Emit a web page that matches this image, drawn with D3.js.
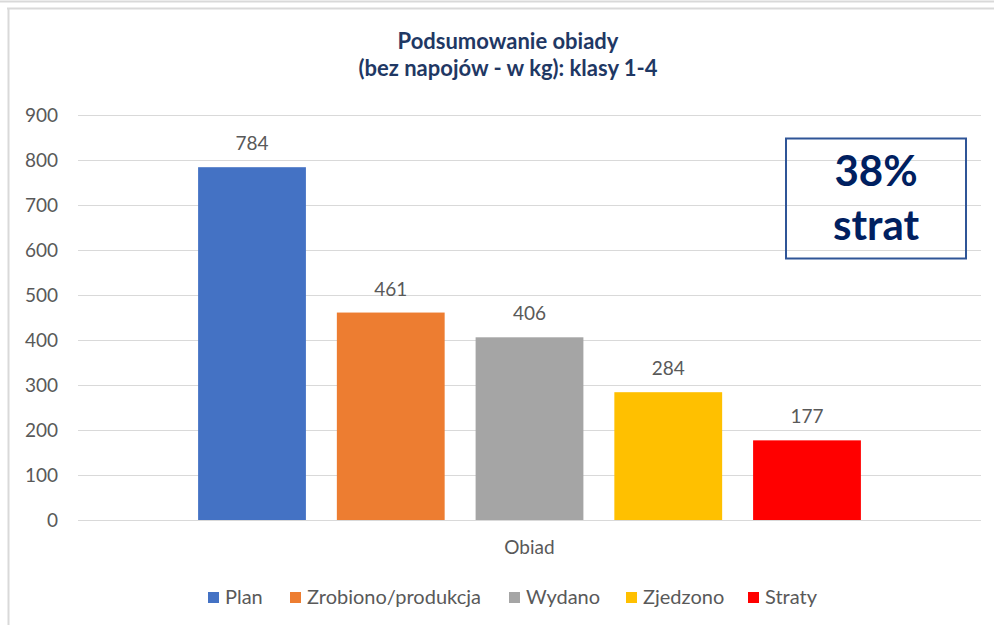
<!DOCTYPE html>
<html>
<head>
<meta charset="utf-8">
<script src="https://cdn.jsdelivr.net/npm/d3@7"></script>
<style>
  html, body { margin: 0; padding: 0; background: #fff; }
  svg { display: block; }
  text { font-family: Lato, "Open Sans", sans-serif; }
</style>
</head>
<body>
<svg id="chart" width="994" height="625"></svg>
<script>
const categories = ["Obiad"];
const seriesNames = ["Plan", "Zrobiono/produkcja", "Wydano", "Zjedzono", "Straty"];
const seriesValues = [784, 461, 406, 284, 177];
const seriesColors = ["#4472C4", "#ED7D31", "#A5A5A5", "#FFC000", "#FF0000"];
const yTicks = [0, 100, 200, 300, 400, 500, 600, 700, 800, 900];
const titleLines = ["Podsumowanie obiady", "(bez napojów - w kg): klasy 1-4"];
const calloutLines = ["38%", "strat"];

const svg = d3.select("#chart");
const W = 994, H = 625;
const plot = {left: 78, right: 981, top: 115, bottom: 520};

// frame (screenshot borders)
svg.append("line").attr("x1", 0).attr("x2", W).attr("y1", 1.5).attr("y2", 1.5)
  .attr("stroke", "#d9d9d9").attr("stroke-width", 2);
svg.append("line").attr("x1", 7).attr("x2", W).attr("y1", 8.5).attr("y2", 8.5)
  .attr("stroke", "#d9d9d9").attr("stroke-width", 2);
svg.append("line").attr("x1", 8.5).attr("x2", 8.5).attr("y1", 8).attr("y2", H)
  .attr("stroke", "#d9d9d9").attr("stroke-width", 2);

const y = d3.scaleLinear().domain([0, 900]).range([plot.bottom, plot.top]);
const x0 = d3.scaleBand().domain(categories).range([plot.left, plot.right]).padding(0.1534);
const x1 = d3.scaleBand().domain(seriesNames).range([0, x0.bandwidth()]).paddingInner(0.223).paddingOuter(0);

// gridlines
svg.append("g").selectAll("line").data(yTicks).join("line")
  .attr("x1", plot.left).attr("x2", plot.right)
  .attr("y1", d => Math.round(y(d)) + 0.5).attr("y2", d => Math.round(y(d)) + 0.5)
  .attr("stroke", "#d9d9d9").attr("stroke-width", 1);

// y axis labels
const yAxis = d3.axisLeft(y).tickValues(yTicks).tickSize(0).tickPadding(0);
const gy = svg.append("g").attr("transform", `translate(58,0)`).call(yAxis);
gy.select(".domain").remove();
gy.selectAll("text").attr("fill", "#595959").style("font-size", "19px")
  .style("font-family", "Lato, sans-serif");

// bars
const data = seriesNames.map((s, i) => ({name: s, value: seriesValues[i], color: seriesColors[i]}));
const g = svg.append("g").attr("transform", `translate(${x0("Obiad")},0)`);
g.selectAll("rect").data(data).join("rect")
  .attr("x", d => x1(d.name)).attr("width", x1.bandwidth())
  .attr("y", d => y(d.value)).attr("height", d => y(0) - y(d.value))
  .attr("fill", d => d.color);
g.selectAll("text.val").data(data).join("text").attr("class", "val")
  .attr("x", d => x1(d.name) + x1.bandwidth() / 2)
  .attr("y", d => y(d.value) - 17)
  .attr("text-anchor", "middle").attr("fill", "#595959").style("font-size", "19px")
  .text(d => d.value);

// x axis category label
const xAxis = d3.axisBottom(x0).tickSize(0).tickPadding(0);
const gx = svg.append("g").attr("transform", `translate(0,${plot.bottom + 20})`).call(xAxis);
gx.select(".domain").remove();
gx.selectAll("text").attr("fill", "#595959").style("font-size", "19px")
  .style("font-family", "Lato, sans-serif");

// title
svg.append("text").attr("text-anchor", "middle")
  .attr("fill", "#1F3864").style("font-size", "22px").style("font-weight", "bold")
  .selectAll("tspan").data(titleLines).join("tspan")
  .attr("x", 508).attr("y", (d, i) => i === 0 ? 49 : 76).text(d => d);

// callout box
svg.append("rect").attr("x", 786).attr("y", 138.5).attr("width", 180).attr("height", 120)
  .attr("fill", "none").attr("stroke", "#2F5597").attr("stroke-width", 2);
svg.append("text").attr("text-anchor", "middle").attr("fill", "#002060")
  .style("font-size", "42px").style("font-weight", "bold")
  .selectAll("tspan").data(calloutLines).join("tspan")
  .attr("x", 876).attr("y", (d, i) => i === 0 ? 186 : 240).text(d => d);

// legend
const legendX = [208, 290, 509, 626, 748];
const lg = svg.append("g").selectAll("g").data(data).join("g")
  .attr("transform", (d, i) => `translate(${legendX[i]},592)`);
lg.append("rect").attr("width", 11).attr("height", 11).attr("fill", d => d.color);
lg.append("text").attr("x", 17).attr("y", 11.5).attr("fill", "#595959")
  .style("font-size", "20px").text(d => d.name);
</script>
</body>
</html>
